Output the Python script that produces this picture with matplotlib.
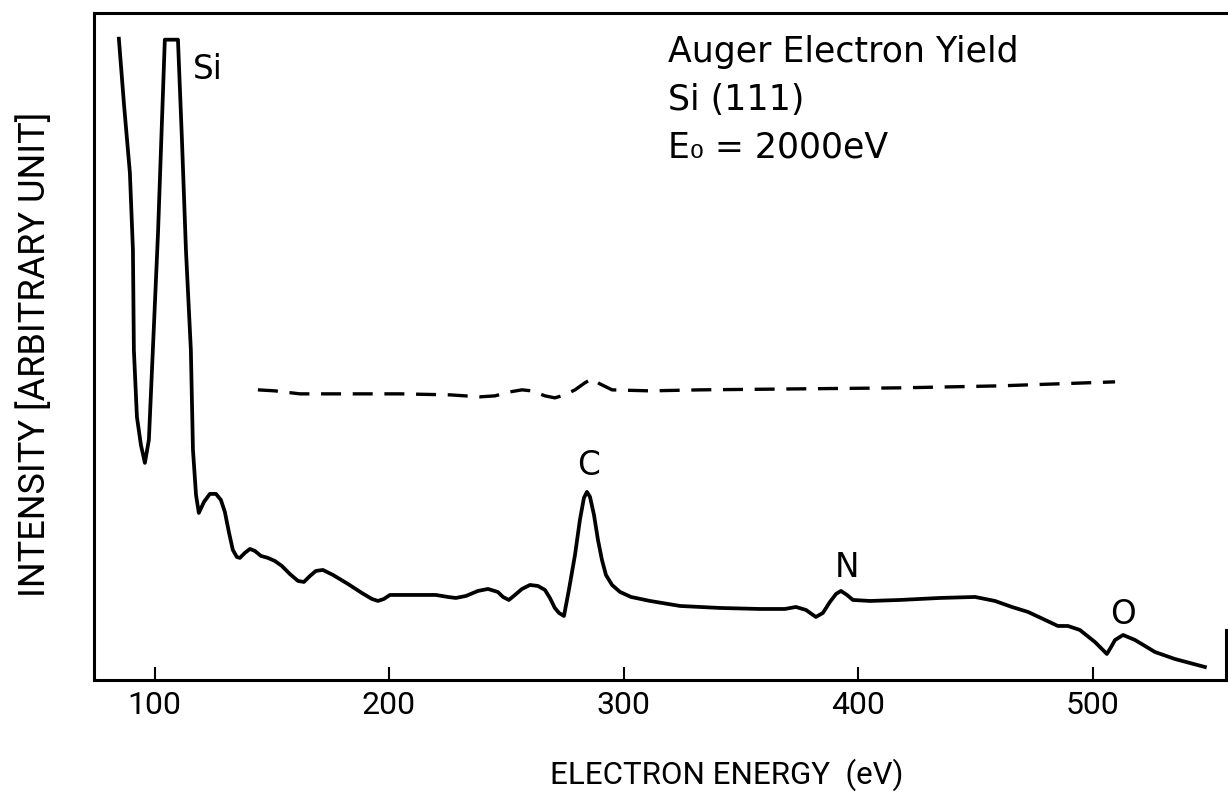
import matplotlib
matplotlib.use("Agg")
import matplotlib.pyplot as plt

# ---- data ----
energy_solid = [84.8, 87.0, 89.5, 90.8, 91.2, 92.5, 94.2, 95.9, 97.6, 99.3, 101.5, 103.2, 104.4,
                110.0, 111.7, 113.4, 115.5, 116.4, 117.7, 118.9, 121.1, 123.6, 126.2, 128.3,
                130.0, 131.7, 133.4, 135.1, 136.4, 138.5, 140.7, 142.8, 145.4, 148.4, 151.3,
                154.3, 157.7, 161.2, 163.7, 166.3, 168.8, 171.8, 176.1, 182.5, 188.4, 192.7,
                195.3, 197.8, 200.4, 220.0, 225.1, 228.5, 232.8, 237.9, 242.2, 246.4, 248.6,
                251.1, 253.7, 256.7, 260.1, 263.5, 266.5, 268.6, 270.7, 272.5, 274.6, 276.7,
                279.3, 281.4, 283.1, 284.4, 285.7, 287.4, 289.1, 290.8, 292.5, 295.1, 298.5,
                303.2, 311.3, 324.1, 341.1, 358.2, 368.8, 373.5, 377.8, 382.0, 385.0, 388.0,
                390.6, 392.7, 395.3, 397.8, 405.1, 417.9, 434.9, 449.9, 458.4, 465.6, 472.5,
                478.9, 485.2, 489.5, 494.6, 501.0, 504.0, 506.1, 507.9, 509.6, 513.0, 518.1,
                526.6, 535.1, 541.5, 547.9]
intensity_solid = [96.15, 86.25, 76.05, 64.5, 49.5, 39.45, 35.25, 32.55, 36.0, 49.5, 67.05, 84.0,
                   96.0, 96.0, 81.0, 64.5, 49.5, 34.5, 27.75, 25.05, 26.7, 27.9, 27.9, 27.0,
                   25.2, 22.2, 19.5, 18.45, 18.3, 19.05, 19.65, 19.35, 18.6, 18.3, 17.85, 17.1,
                   15.9, 14.85, 14.7, 15.6, 16.35, 16.5, 15.75, 14.4, 13.05, 12.15, 11.85,
                   12.15, 12.75, 12.75, 12.45, 12.3, 12.6, 13.35, 13.65, 13.2, 12.45, 12.0,
                   12.75, 13.65, 14.25, 14.1, 13.5, 12.3, 10.8, 10.05, 9.6, 13.5, 18.75, 24.0,
                   27.3, 28.2, 27.45, 24.75, 21.0, 18.0, 15.75, 14.25, 13.2, 12.45, 11.85,
                   11.1, 10.8, 10.65, 10.65, 10.95, 10.5, 9.45, 10.05, 11.7, 12.9, 13.35,
                   12.75, 12.0, 11.85, 12.0, 12.3, 12.45, 11.85, 10.95, 10.2, 9.15, 8.1, 8.1,
                   7.5, 5.7, 4.65, 3.9, 4.95, 6.0, 6.75, 6.0, 4.2, 3.15, 2.55, 1.95]

energy_dashed = [144.1, 151.3, 162.0, 179.1, 204.6, 226.0, 238.8, 245.2, 251.6, 256.7, 260.9,
                 266.5, 270.7, 275.0, 279.3, 283.5, 286.5, 289.9, 295.1, 311.3, 332.6, 375.2,
                 417.9, 460.5, 509.6]
intensity_dashed = [43.5, 43.35, 42.9, 42.9, 42.9, 42.75, 42.45, 42.6, 43.2, 43.5, 43.35, 42.6,
                    42.3, 42.75, 43.5, 44.55, 45.15, 44.4, 43.5, 43.35, 43.5, 43.65, 43.8,
                    44.1, 44.7]

peak_labels = ["Si", "C", "N", "O"]
peak_label_x = [122.8, 285.2, 395.3, 513.0]
peak_label_y = [91.5, 32.1, 16.8, 9.75]

x_ticks = [100, 200, 300, 400, 500]
x_limits = (74.2, 556.9)
y_limits = (0, 100)

info_lines = ["Auger Electron Yield", "Si (111)", "E\u2080 = 2000eV"]

# ---- figure ----
plt.rcParams['font.family'] = ['Roboto', 'DejaVu Sans']
fig = plt.figure(figsize=(12.28, 8.02), dpi=100)
ax = fig.add_axes([94/1228, 1 - 680/802, (1226 - 94)/1228, (680 - 13)/802])

ax.plot(energy_solid, intensity_solid, color='black', lw=2.7, solid_joinstyle='round')
ax.plot(energy_dashed, intensity_dashed, color='black', lw=2.4, dashes=(6, 3.5))

ax.set_xlim(*x_limits)
ax.set_ylim(*y_limits)
ax.set_xticks(x_ticks)
ax.set_xticklabels([str(t) for t in x_ticks])
ax.set_yticks([])
ax.tick_params(axis='x', direction='in', length=9.5, width=1.5, pad=8, labelsize=23)

for side in ['left', 'bottom', 'top', 'right']:
    ax.spines[side].set_linewidth(2.2)
ax.spines['right'].set_bounds(0, 7.5)

for lab, lx, ly in zip(peak_labels, peak_label_x, peak_label_y):
    ax.text(lx, ly, lab, ha='center', va='center', fontsize=23.5,
            family=['DejaVu Sans'])

baselines = [0.9265, 0.8546, 0.7830]
for line, yb in zip(info_lines, baselines):
    ax.text(0.507, yb, line, transform=ax.transAxes,
            ha='left', va='baseline', fontsize=25, family=['DejaVu Sans'])

ax.set_xlabel("ELECTRON ENERGY  (eV)", fontsize=22.5)
ax.xaxis.set_label_coords(0.559, -0.117)
ax.set_ylabel("INTENSITY [ARBITRARY UNIT]", fontsize=26)
ax.yaxis.set_label_coords(-0.036, 0.488)

fig.savefig("out.png", dpi=100)
